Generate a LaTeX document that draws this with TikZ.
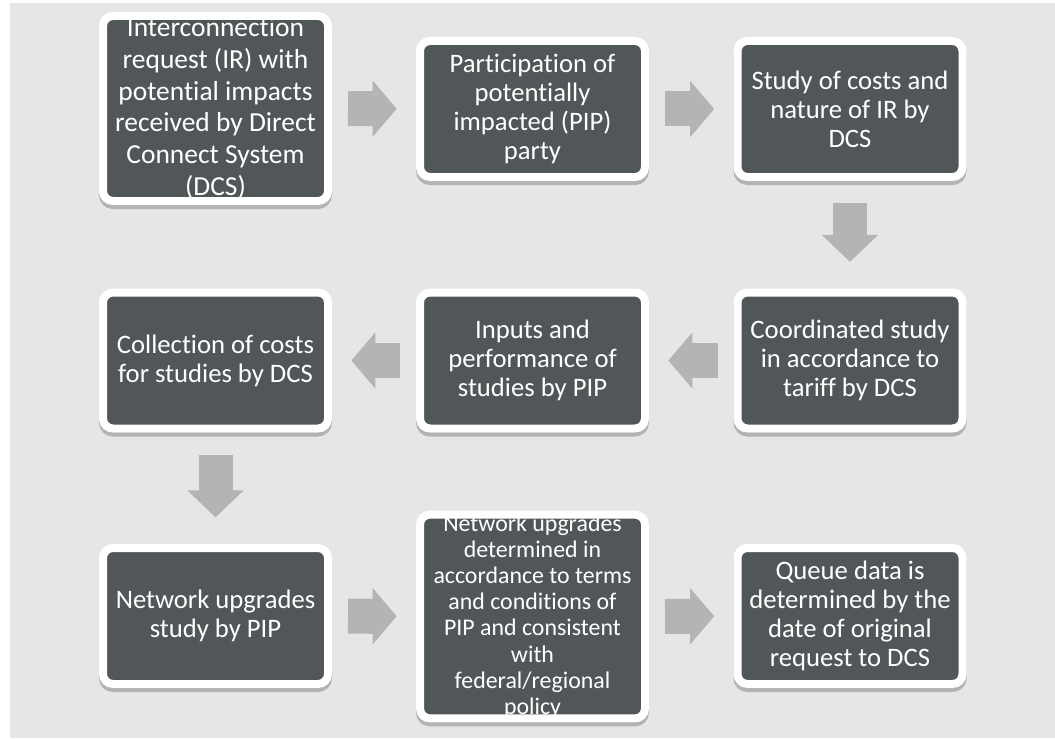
\documentclass[tikz,border=0pt]{standalone}
\usepackage{fontspec}
\setmainfont{Carlito}[Ligatures=NoCommon]
\usetikzlibrary{arrows.meta,shadows}
\definecolor{CanvasGrey}{RGB}{230,230,230}
\definecolor{BoxGrey}{RGB}{81,87,89}
\definecolor{ArrowGrey}{RGB}{178,180,182}
\tikzset{
  stepbox/.style={rectangle,rounded corners=7.5pt,draw=white,line width=6pt,fill=BoxGrey,text=white,align=center,
    font=\fontsize{20}{21.75}\selectfont,minimum width=168.75pt,minimum height=102pt,inner sep=0pt,
    drop shadow={shadow xshift=0pt,shadow yshift=-3pt,opacity=.22,draw=black,line width=6pt,fill=black}},
  tallbox/.style={stepbox,minimum height=138.75pt,font=\fontsize{20.6}{23.75}\selectfont},
  crowdbox/.style={stepbox,minimum height=146.25pt,font=\fontsize{17.9}{19.65}\selectfont},
  harrow/.style={-{Triangle[length=18pt,width=41.25pt]},line width=26.25pt,draw=ArrowGrey,shorten <=12pt,shorten >=14.5pt},
  varrow/.style={-{Triangle[length=20.25pt,width=41.25pt]},line width=25.5pt,draw=ArrowGrey,shorten <=16.5pt,shorten >=20pt}
}
\begin{document}
\begin{tikzpicture}[x=0.75pt,y=-0.75pt]
  \useasboundingbox (0,0) rectangle (1055,738);
  \fill[white] (0,0) rectangle (1055,738);
  \fill[CanvasGrey] (10,3) rectangle (1055,738);
  % row 1
  \node[tallbox] (request) at (215.5,108.5) {Interconnection\\request (IR) with\\potential impacts\\received by Direct\\Connect System\\(DCS)};
  \node[stepbox] (participation) at (532.5,109) {Participation of\\potentially\\impacted (PIP)\\party};
  \node[stepbox] (study) at (850,109) {Study of costs and\\nature of IR by\\DCS};
  % row 2
  \node[stepbox] (coordinated) at (850,360.5) {Coordinated study\\in accordance to\\tariff by DCS};
  \node[stepbox] (inputs) at (532.5,360.5) {Inputs and\\performance of\\studies by PIP};
  \node[stepbox] (collection) at (215.5,360.5) {Collection of costs\\for studies by DCS};
  % row 3
  \node[stepbox] (upgrades) at (215.5,616) {Network upgrades\\study by PIP};
  \node[crowdbox] (determined) at (532.5,616.5) {Network upgrades\\determined in\\accordance to terms\\and conditions of\\PIP and consistent\\with\\federal/regional\\policy};
  \node[stepbox] (queue) at (850,616) {Queue data is\\determined by the\\date of original\\request to DCS};
  \foreach \a/\b in {request/participation,participation/study,coordinated/inputs,inputs/collection,upgrades/determined,determined/queue}
    {\draw[harrow] (\a)--(\b);}
  \draw[varrow] (study)--(coordinated);
  \draw[varrow] (collection)--(upgrades);
\end{tikzpicture}
\end{document}
